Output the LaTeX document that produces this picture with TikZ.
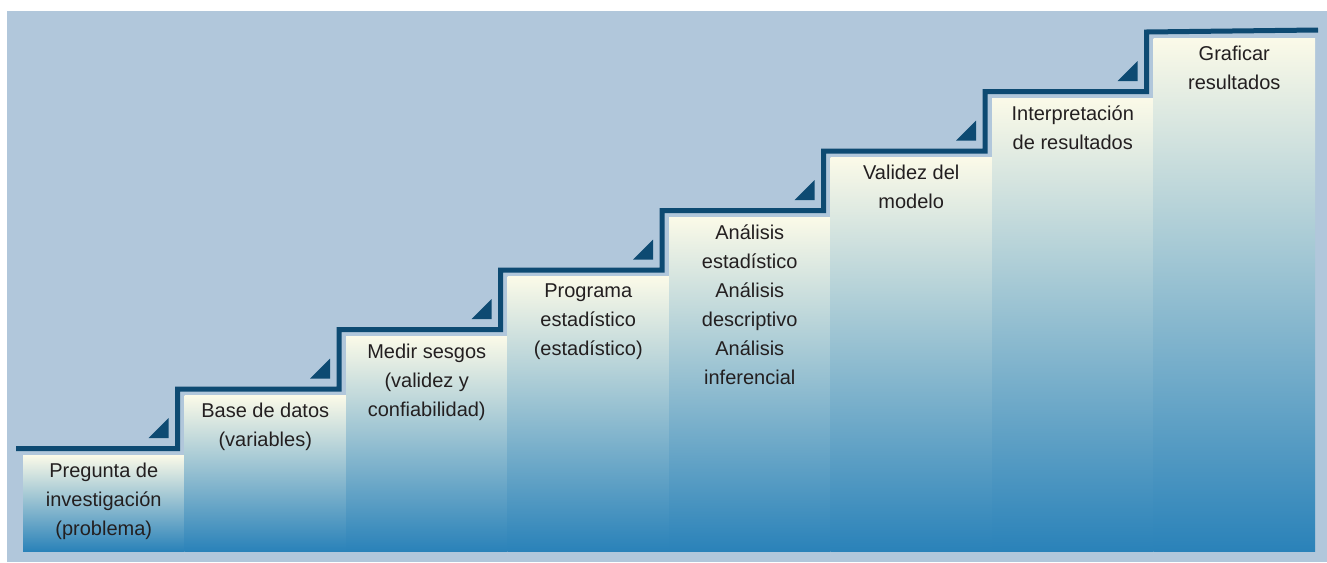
\documentclass[tikz,border=0pt]{standalone}
\usepackage{fontspec}
\setmainfont{Liberation Sans}
\usetikzlibrary{positioning,calc}
\definecolor{stairline}{HTML}{0D4A72}
\definecolor{skyback}{HTML}{B1C7DB}
\definecolor{creamtop}{HTML}{FBFAE8}
\definecolor{midgray}{HTML}{B4C3CF}
\definecolor{stepblue}{HTML}{2A82B9}
\definecolor{txtgray}{HTML}{231F20}
\tikzset{steptxt/.style={anchor=north,align=center,text=txtgray,inner
sep=0pt,font=\fontsize{20}{29}\selectfont},stairs/.style={draw=stairline,line
width=5pt},marker/.style={fill=stairline}}

\begin{document}
\begin{tikzpicture}[x=1pt,y=-1pt]
		\useasboundingbox (0,0) rectangle (1327,562);
		\fill[skyback] (7,11) rectangle (1327,562);
		% columns with their texts
		\foreach \i/\txt in {1/{Pregunta de\\investigación\\(problema)},
				2/{Base de datos\\(variables)},
				3/{Medir sesgos\\(validez y\\confiabilidad)},
				4/{Programa\\estadístico\\(estadístico)},
				5/{Análisis\\estadístico\\Análisis\\descriptivo\\Análisis\\inferencial},
				6/{Validez del\\modelo},
				7/{Interpretación\\de resultados},
				8/{Graficar\\resultados}} {
				\pgfmathsetmacro\lx{23+(\i-1)*161.5}
				\pgfmathsetmacro\ty{455-(\i-1)*59.5}
				\shade[top color=creamtop,middle color=midgray,bottom color=stepblue]
				(\lx,\ty) rectangle (\lx+161.5,551);
				\coordinate (c\i) at (\lx-7,\ty-6.5);
				\coordinate (t\i) at (\lx-16,\ty+42.5);
				\node[steptxt] (s\i) at (\lx+80.75,\ty+7.5) {\txt};
			}
		% the stairs
		\coordinate (start) at (16,448.5);
		\coordinate (stop) at (1318,30);
		\draw[stairs] (start) -| (c2) -| (c3) -| (c4) -| (c5) -| (c6) -| (c7) -| (c8) -- (stop);
		% small triangles
		\foreach \i in {2,...,8} {
				\fill[marker] (t\i) -- ++(0,-20) -- ++(-20,20) -- cycle;
			}
	\end{tikzpicture}
\end{document}
